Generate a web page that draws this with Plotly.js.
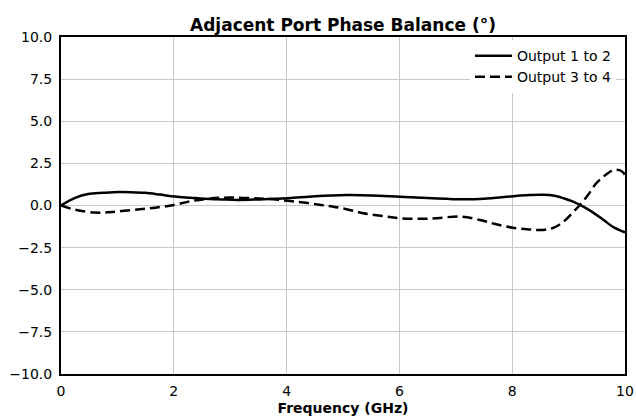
<!DOCTYPE html>
<html>
<head>
<meta charset="utf-8">
<script src="https://cdn.plot.ly/plotly-3.0.1.min.js"></script>
<style>
html,body{margin:0;padding:0;background:#fff;}
#chart{width:636px;height:418px;}
</style>
</head>
<body>
<div id="chart"></div>
<script>
const freq12 = [0, 0.25, 0.48, 0.75, 1.02, 1.25, 1.49, 1.75, 2.02, 2.3, 2.55, 2.85, 3.13, 3.5, 4.02, 4.5, 5.07, 5.5, 6.01, 6.5, 7.13, 7.5, 8.01, 8.3, 8.55, 8.75, 8.91, 9.1, 9.26, 9.45, 9.62, 9.8, 9.97, 10];
const out12 = [0.0, 0.45, 0.68, 0.75, 0.8, 0.79, 0.75, 0.65, 0.53, 0.46, 0.4, 0.36, 0.33, 0.36, 0.43, 0.55, 0.62, 0.6, 0.52, 0.45, 0.37, 0.4, 0.55, 0.62, 0.64, 0.58, 0.43, 0.2, -0.07, -0.45, -0.86, -1.3, -1.55, -1.6];
const freq34 = [0, 0.25, 0.6, 0.85, 1.07, 1.4, 1.67, 2.0, 2.26, 2.55, 2.84, 3.1, 3.44, 3.7, 4.02, 4.3, 4.61, 4.83, 5.1, 5.36, 5.7, 6.01, 6.54, 7.07, 7.43, 7.7, 8.01, 8.3, 8.55, 8.75, 8.91, 9.05, 9.2, 9.35, 9.49, 9.65, 9.79, 9.9, 9.97, 10];
const out34 = [0.0, -0.25, -0.42, -0.4, -0.33, -0.22, -0.13, 0.03, 0.23, 0.38, 0.46, 0.47, 0.43, 0.38, 0.28, 0.18, 0.03, -0.07, -0.25, -0.46, -0.62, -0.76, -0.78, -0.66, -0.86, -1.1, -1.32, -1.42, -1.45, -1.3, -0.96, -0.5, 0.03, 0.65, 1.32, 1.8, 2.1, 2.1, 1.95, 1.8];
const seriesNames = ["Output 1 to 2", "Output 3 to 4"];
const yTicks = [-10, -7.5, -5, -2.5, 0, 2.5, 5, 7.5, 10];
const xTicks = [0, 2, 4, 6, 8, 10];

const FONT = "DejaVu Sans, sans-serif";
const traces = [
  {x: freq12, y: out12, name: seriesNames[0], mode: "lines", line: {color: "#000", width: 2.5, shape: "spline", smoothing: 1}},
  {x: freq34, y: out34, name: seriesNames[1], mode: "lines", line: {color: "#000", width: 2.5, dash: "10px,5px", shape: "spline", smoothing: 1}}
];
const layout = {
  width: 636, height: 418,
  margin: {l: 61, r: 11, t: 37, b: 44, pad: 0},
  paper_bgcolor: "#fff", plot_bgcolor: "#fff",
  font: {family: FONT, color: "#000", size: 14},
  title: {text: "<b>Adjacent Port Phase Balance (°)</b>", font: {family: FONT, size: 17, color: "#000"}, x: 0.5, xref: "paper", xanchor: "center", y: 1, yref: "paper", yanchor: "bottom", pad: {b: 6}},
  xaxis: {
    range: [0, 10], tickvals: xTicks, ticktext: xTicks.map(String),
    showgrid: true, gridcolor: "#c8c8c8", gridwidth: 1, zeroline: false,
    showline: true, linecolor: "#000", linewidth: 2, mirror: true,
    ticks: "", ticklen: 0, tickfont: {size: 14}, ticklabelstandoff: 3,
    title: {text: "<b>Frequency (GHz)</b>", font: {size: 14}, standoff: 5}
  },
  yaxis: {
    range: [-10, 10], tickvals: yTicks, ticktext: yTicks.map(v => (v < 0 ? "\u2212" : "") + Math.abs(v).toFixed(1)),
    showgrid: true, gridcolor: "#c8c8c8", gridwidth: 1, zeroline: false,
    showline: true, linecolor: "#000", linewidth: 2, mirror: true,
    ticks: "", ticklen: 0, tickfont: {size: 14}, ticklabelstandoff: 4
  },
  showlegend: true,
  legend: {x: 0.984, y: 0.991, xanchor: "right", yanchor: "top", bgcolor: "#fff", borderwidth: 0, font: {size: 14}, tracegroupgap: 0, itemwidth: 37}
};
Plotly.newPlot("chart", traces, layout, {staticPlot: true, displayModeBar: false});
</script>
</body>
</html>
